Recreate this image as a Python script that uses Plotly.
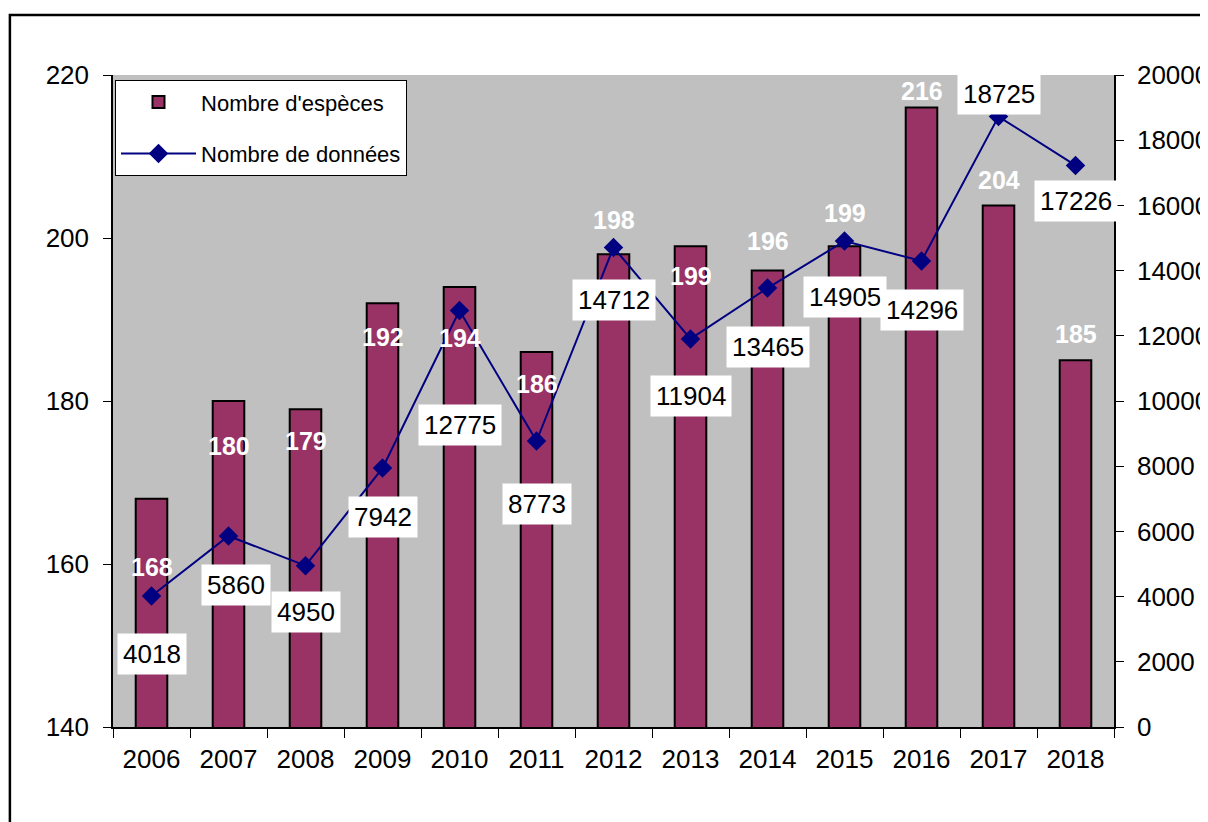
import plotly.graph_objects as go

years = ["2006", "2007", "2008", "2009", "2010", "2011", "2012",
         "2013", "2014", "2015", "2016", "2017", "2018"]
especes = [168, 180, 179, 192, 194, 186, 198, 199, 196, 199, 216, 204, 185]
donnees = [4018, 5860, 4950, 7942, 12775, 8773, 14712, 11904, 13465, 14905, 14296, 18725, 17226]
left_ticks = [140, 160, 180, 200, 220]
right_ticks = [0, 2000, 4000, 6000, 8000, 10000, 12000, 14000, 16000, 18000, 20000]

# label offsets (pixels, positive = up) as placed in the reference
bar_label_shift = [-68, -45, -32, -34, -51, -32, 34, -30, 30, 33, 17, 25, 26]
line_label_shift = [-58, -49, -46, -49, -114, -63, -53, -57, -59, -56, -49, 23, -36]
line_label_xshift = [0, 7, 0, 0, 0, 0, 0, 0, 0, 0, 0, 0, 0]

FONT = "Liberation Sans, Arial, sans-serif"

fig = go.Figure()
fig.add_trace(go.Bar(
    x=years, y=especes, name="Nombre d'espèces", legendgroup="a",
    marker=dict(color="#993366", line=dict(color="black", width=2)),
    width=0.41, yaxis="y",
))
fig.add_trace(go.Scatter(
    x=years, y=donnees, name="Nombre de données", mode="lines+markers", legendgroup="b",
    line=dict(color="#000080", width=2),
    marker=dict(symbol="diamond", size=15, color="#000080"),
    yaxis="y2",
))

ann = []
for i, y in enumerate(years):
    ann.append(dict(x=i, y=especes[i], xref="x", yref="y", text=f"<b>{especes[i]}</b>",
                    showarrow=False, yshift=bar_label_shift[i],
                    font=dict(family=FONT, size=25, color="white")))
    ann.append(dict(x=i, y=donnees[i], xref="x", yref="y2", text=str(donnees[i]),
                    showarrow=False, yshift=line_label_shift[i], xshift=line_label_xshift[i],
                    bgcolor="white", borderpad=5,
                    font=dict(family=FONT, size=26, color="black")))

fig.update_layout(
    width=1200, height=814,
    margin=dict(l=105, r=94, t=67, b=95, autoexpand=False),
    paper_bgcolor="white", plot_bgcolor="#C0C0C0",
    font=dict(family=FONT, size=26, color="black"),
    showlegend=True,
    legend=dict(x=0.002, y=0.992, xanchor="left", yanchor="top",
                bgcolor="white", bordercolor="black", borderwidth=1,
                font=dict(family=FONT, size=22), itemwidth=75,
                traceorder="grouped", tracegroupgap=20),
    xaxis=dict(type="category", range=[-0.5, 12.5], showline=True, linecolor="black",
               linewidth=1.5, ticks="outside", tickson="boundaries", ticklen=9,
               tickcolor="black", showgrid=False, tickfont=dict(size=26),
               tickangle=0, automargin=False, ticklabelstandoff=8),
    yaxis=dict(range=[140, 220], tickvals=left_ticks, showline=True,
               linecolor="black", linewidth=1.5, ticks="outside", ticklen=8,
               tickcolor="black", showgrid=False, zeroline=False, tickfont=dict(size=26),
               automargin=False, ticklabelstandoff=9),
    yaxis2=dict(range=[0, 20000], tickvals=right_ticks, ticktext=[str(v) for v in right_ticks],
                overlaying="y", side="right",
                showline=True, linecolor="black", linewidth=1.5, ticks="outside",
                ticklen=8, tickcolor="black", showgrid=False, zeroline=False,
                tickfont=dict(size=26), automargin=False, ticklabelstandoff=8),
    annotations=ann,
    shapes=[dict(type="rect", xref="paper", yref="paper", x0=-0.103, y0=-0.2,
                 x1=1.3, y1=1.092, line=dict(color="black", width=2.5),
                 fillcolor="rgba(0,0,0,0)", layer="below")],
)

fig.write_html("out.html")
